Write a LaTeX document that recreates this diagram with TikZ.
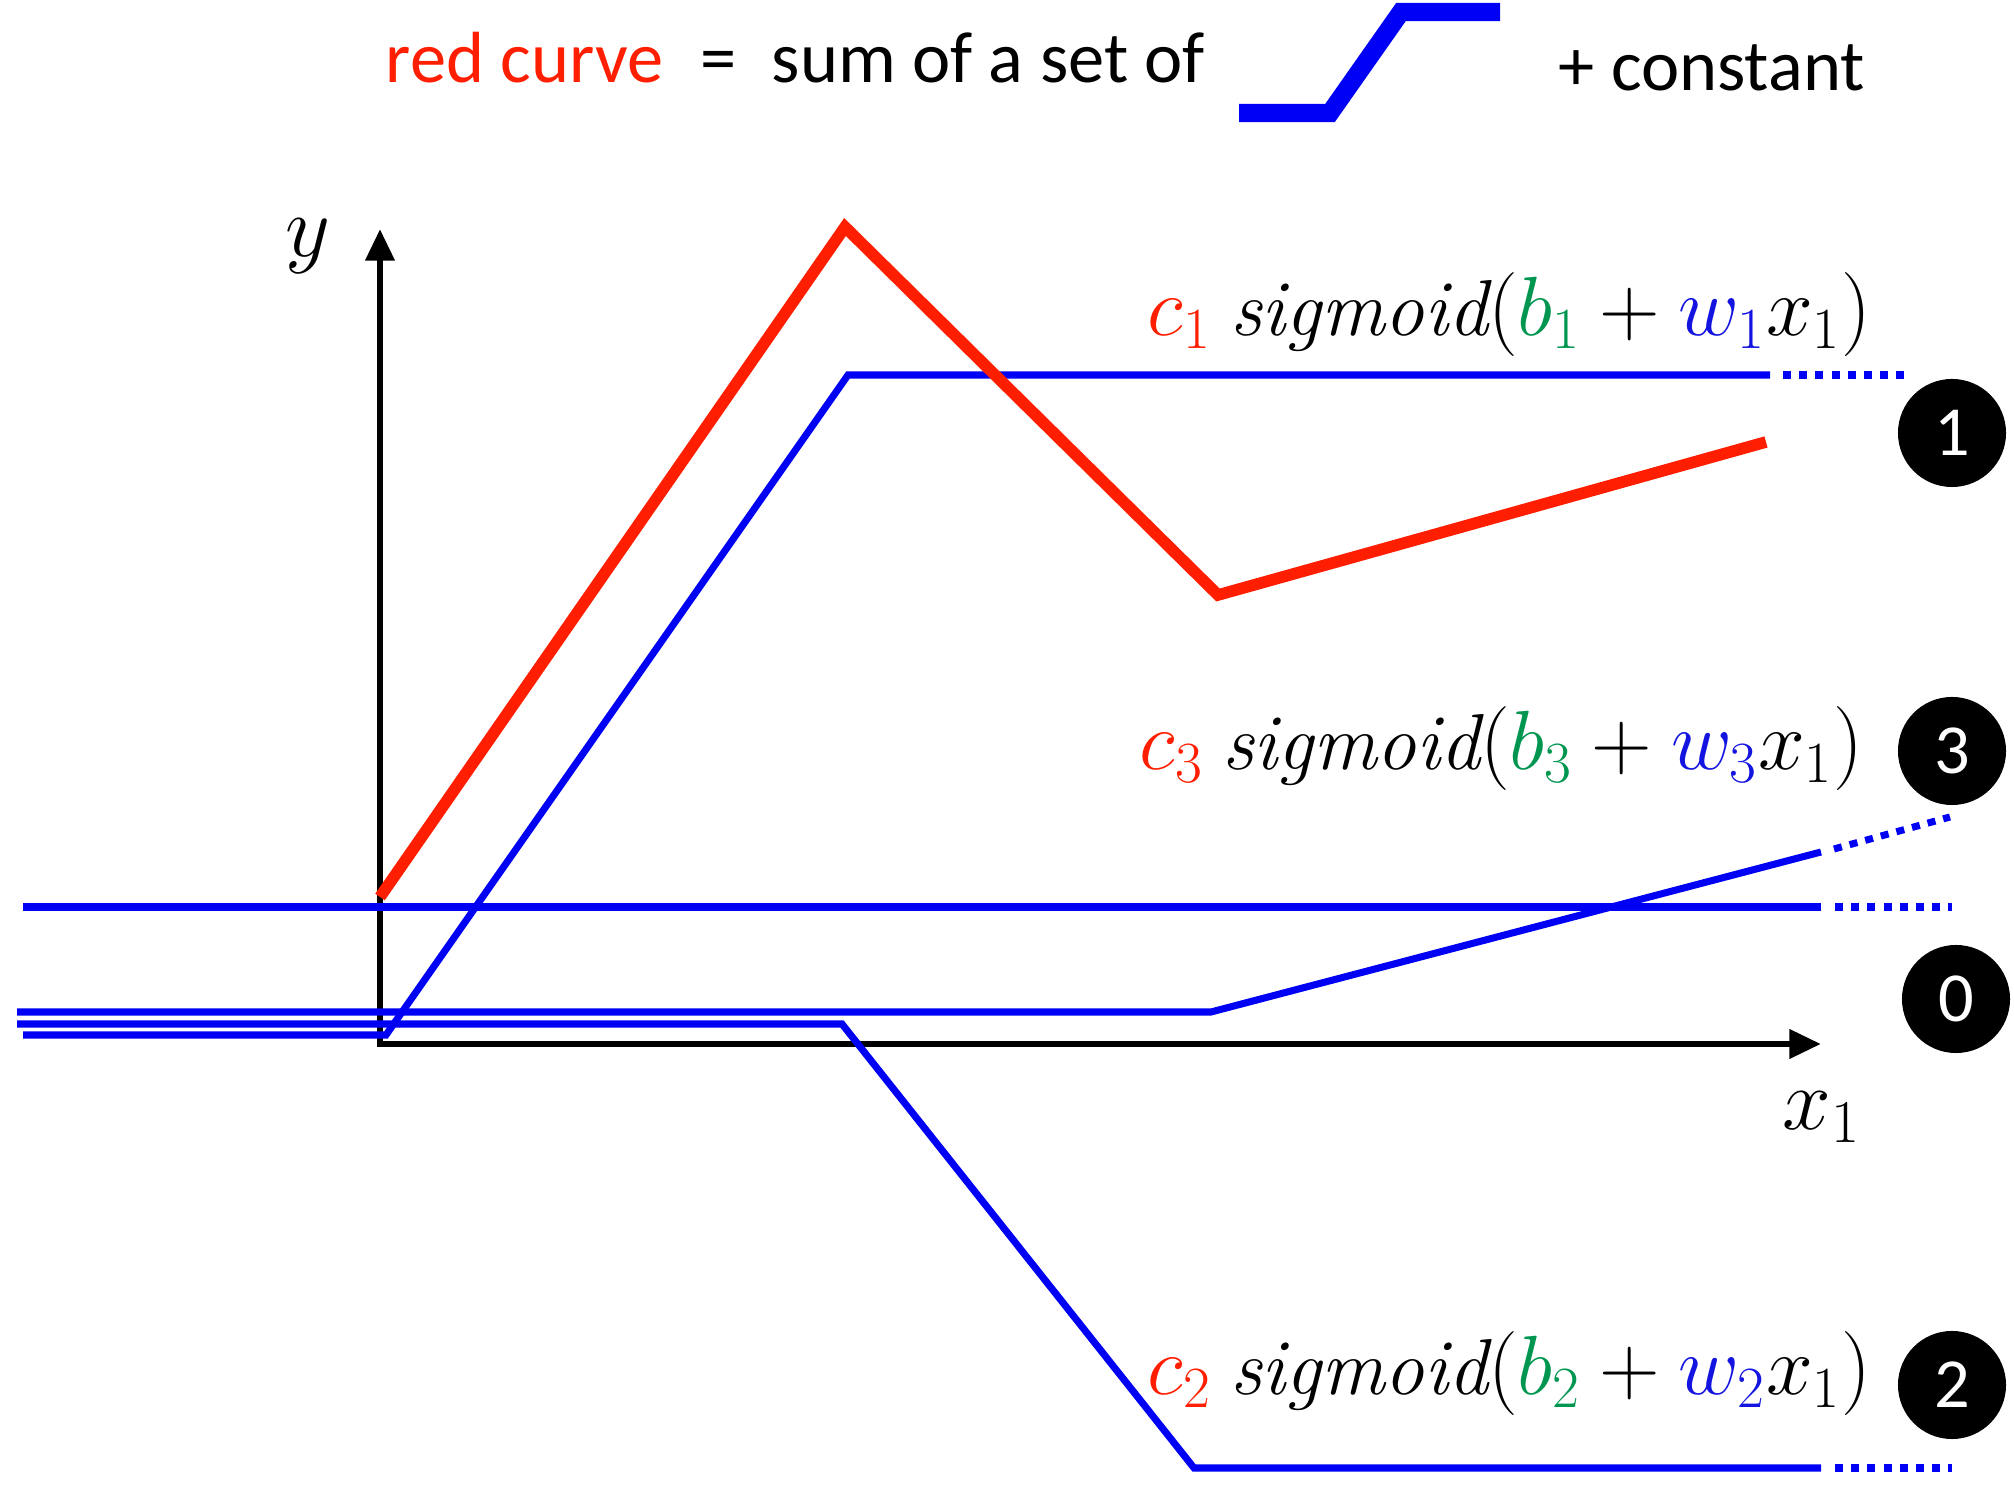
\documentclass[tikz,border=0pt]{standalone}
\usepackage{fontspec}
\newfontfamily\calfont{Carlito}
\usetikzlibrary{arrows.meta}
\definecolor{sigblue}{RGB}{0,0,245}
\definecolor{curvered}{RGB}{255,30,0}
\definecolor{bgreen}{RGB}{0,150,80}
\definecolor{wblue}{RGB}{20,20,225}
\DeclareMathSizes{23.5}{23.5}{17.5}{13}
\newcommand{\sigterm}[1]{\scalebox{0.96}{$\textcolor{curvered}{c_{#1}}\:\mathit{sigmoid}(\textcolor{bgreen}{b_{#1}}+\textcolor{wblue}{w_{#1}}x_1)$}}

\begin{document}
\begin{tikzpicture}[
    x=0.01cm, y=-0.01cm,
    >={Triangle[length=9pt,width=8pt]},
    sig/.style={draw=sigblue, line width=2pt},
    sigdots/.style={draw=sigblue, line width=2pt, dash pattern=on 2.3pt off 2.3pt},
    redcurve/.style={draw=curvered, line width=3.3pt},
    axis/.style={line width=1.9pt, black},
    title/.style={inner sep=0pt, anchor=base west, font=\calfont\fontsize{20.6}{24}\selectfont},
    formula/.style={inner sep=0pt, anchor=base west, font=\fontsize{23.5}{28}\selectfont},
    axlabel/.style={inner sep=0pt, font=\fontsize{27}{30}\selectfont},
    badge/.style={circle, fill=black, text=white, minimum size=1.08cm, inner sep=0pt, font=\calfont\fontsize{20}{22}\selectfont}
  ]
  \useasboundingbox (0,0) rectangle (2014,1504);

  % title line
  \node[title, text=curvered] (redtxt) at (385,83) {red curve};
  \node[title] (eqtxt) at (700,83) {=};
  \node[title] (sumtxt) at (771,83) {sum of a set of};
  \node[title] (consttxt) at (1558,91) {+ constant};
  \draw[sigblue, line width=5.2pt] (1239,113) -- (1330,113) -- (1401,12) -- (1500,12);

  % axes
  \coordinate (O) at (380,1044);
  \coordinate (ytip) at (380,229);
  \coordinate (xtip) at (1821,1044);
  \draw[axis, <->] (ytip) -- (O) -- (xtip);
  \node[axlabel] (ylab) at (308,246) {$y$};
  \node[axlabel] (xlab) at (1822,1117) {$x_1$};

  % constant (0)
  \coordinate (c0a) at (23,907);
  \coordinate (c0b) at (1821,907);
  \draw[sig] (c0a) -- (c0b);
  \draw[sigdots] (1835,907) -- (1952,907);

  % sigmoid 1
  \coordinate (s1a) at (23,1035);
  \coordinate (s1b) at (386,1035);
  \coordinate (s1c) at (848,375);
  \coordinate (s1d) at (1770,375);
  \draw[sig] (s1a) -- (s1b) -- (s1c) -- (s1d);
  \draw[sigdots] (1783,375) -- (1904,375);

  % sigmoid 2
  \coordinate (s2a) at (17,1024);
  \coordinate (s2b) at (842,1024);
  \coordinate (s2c) at (1194,1468);
  \coordinate (s2d) at (1821,1468);
  \draw[sig] (s2a) -- (s2b) -- (s2c) -- (s2d);
  \draw[sigdots] (1835,1468) -- (1952,1468);

  % sigmoid 3
  \coordinate (s3a) at (17,1012);
  \coordinate (s3b) at (1211,1012);
  \coordinate (s3c) at (1821,852);
  \draw[sig] (s3a) -- (s3b) -- (s3c);
  \draw[sigdots] (1834,849) -- (1950,817);

  % red curve
  \coordinate (r0) at (380,897);
  \coordinate (r1) at (845,227);
  \coordinate (r2) at (1218,595);
  \coordinate (r3) at (1766,442);
  \draw[redcurve] (r0) -- (r1) -- (r2) -- (r3);

  % formulas
  \node[formula] (f1) at (1147,336) {\sigterm{1}};
  \node[formula] (f3) at (1139,770) {\sigterm{3}};
  \node[formula] (f2) at (1147,1395) {\sigterm{2}};

  % numbered badges
  \node[badge] (n1) at (1952,433) {1};
  \node[badge] (n3) at (1952,751) {3};
  \node[badge] (n0) at (1956,999) {0};
  \node[badge] (n2) at (1952,1385) {2};
\end{tikzpicture}
\end{document}
